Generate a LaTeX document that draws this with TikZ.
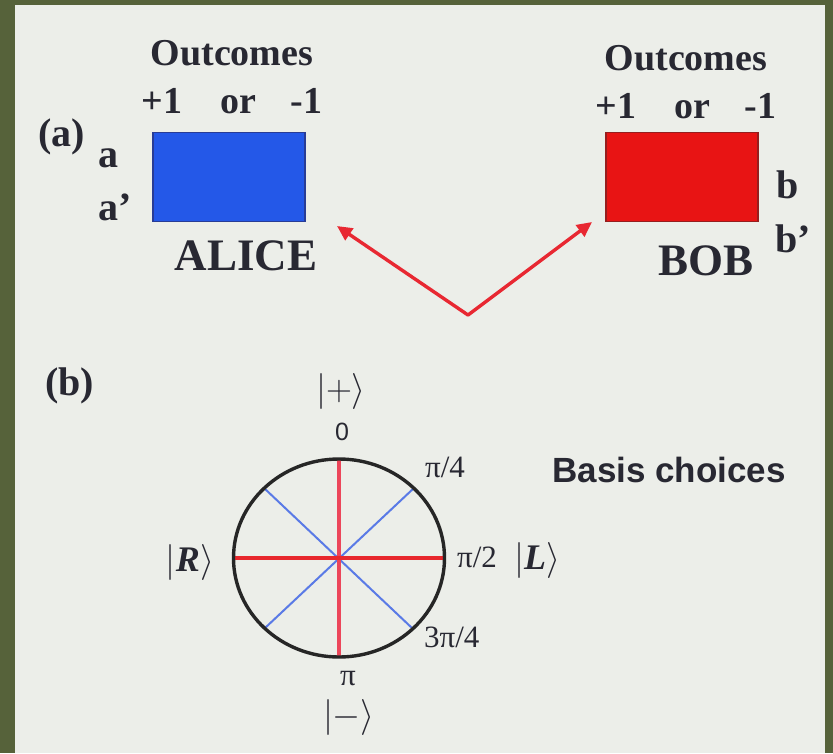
\documentclass[tikz,border=0pt]{standalone}
\usepackage{fix-cm}
\usepackage{fontspec}
\setmainfont{Liberation Serif}
\newfontfamily\labelsans{Liberation Sans}
\usetikzlibrary{arrows.meta}

\definecolor{framegreen}{RGB}{86,98,58}
\definecolor{panelgray}{RGB}{236,238,233}
\definecolor{alicefill}{RGB}{36,88,232}
\definecolor{aliceedge}{RGB}{40,60,150}
\definecolor{bobfill}{RGB}{232,20,20}
\definecolor{bobedge}{RGB}{150,30,30}
\definecolor{arrowred}{RGB}{232,40,50}
\definecolor{axisred}{RGB}{232,40,45}
\definecolor{axispink}{RGB}{236,70,90}
\definecolor{diagblue}{RGB}{90,122,230}
\definecolor{inkdark}{RGB}{40,40,50}

\tikzset{
  heading/.style={inner sep=0pt, anchor=base, text=inkdark,
    font=\fontsize{38}{40}\selectfont\bfseries},
  tagtxt/.style={inner sep=0pt, anchor=base west, text=inkdark,
    font=\fontsize{40}{42}\selectfont\bfseries},
  nametxt/.style={inner sep=0pt, anchor=base, text=inkdark,
    font=\fontsize{45}{47}\selectfont\bfseries},
  settingtxt/.style={inner sep=0pt, anchor=base west, text=inkdark,
    font=\fontsize{40}{42}\selectfont\bfseries},
  detector/.style={inner sep=0pt, minimum width=152pt, minimum height=89pt,
    line width=1.2pt},
  sigarrow/.style={draw=arrowred, line width=3.4pt, line cap=round,
    -{Triangle[length=15pt,width=14pt]}},
  angletxt/.style={inner sep=0pt, anchor=base west, text=inkdark,
    font=\fontsize{31}{33}\selectfont},
  kettxt/.style={inner sep=0pt, text=inkdark,
    font=\fontsize{36}{38}\selectfont},
}

\begin{document}
\begin{tikzpicture}[x=1pt,y=-1pt]
  % slide frame and panel
  \fill[framegreen] (0,0) rectangle (833,753);
  \fill[panelgray] (15,5) rectangle (825,753);
  \useasboundingbox (0,0) rectangle (833,753);

  % ---- part (a): the two detectors ----
  \node[tagtxt] (taga) at (38,146) {(a)};

  \node[heading] (outa) at (232,65) {Outcomes};
  \node[heading] (pma) at (232,113) {+1\hspace{38pt}or\hspace{35pt}-1};
  \node[heading] (outb) at (686,70) {Outcomes};
  \node[heading] (pmb) at (686,118) {+1\hspace{38pt}or\hspace{35pt}-1};

  \node[detector, draw=aliceedge, fill=alicefill] (alice) at (229,177) {};
  \node[detector, draw=bobedge, fill=bobfill] (bob) at (682,177) {};

  \node[settingtxt] (sa) at (98,167) {a};
  \node[settingtxt] (sap) at (98,220) {a’};
  \node[settingtxt] (sb) at (776,198) {b};
  \node[settingtxt] (sbp) at (775,252) {b’};

  \node[nametxt] (alicename) at (246,270) {ALICE};
  \node[nametxt] (bobname) at (706,275) {BOB};

  % source emitting towards both detectors
  \coordinate (src) at (468,315);
  \coordinate (atip) at (337,226);
  \coordinate (btip) at (592,222);
  \draw[sigarrow] (src) -- (atip);
  \draw[sigarrow] (src) -- (btip);

  % ---- part (b): basis choices on the circle ----
  \node[tagtxt] (tagb) at (45,395) {(b)};

  \coordinate (c) at (339,558);
  \coordinate (pN) at (339,459);
  \coordinate (pS) at (339,657);
  \coordinate (pW) at (233,558);
  \coordinate (pE) at (446,558);
  \coordinate (pNE) at (414,488);
  \coordinate (pSW) at (265,628);
  \coordinate (pNW) at (264,488);
  \coordinate (pSE) at (412,628);

  \draw[diagblue, line width=2pt] (pNW) -- (pSE);
  \draw[diagblue, line width=2pt] (pNE) -- (pSW);
  \draw[axispink, line width=3.4pt] (pN) -- (pS);
  \draw[axisred, line width=3.4pt] (pW) -- (pE);
  \draw[black!85, line width=3.4pt] (c) ellipse [x radius=105.5pt, y radius=99pt];

  \node[inner sep=0pt, anchor=base, text=inkdark,
        font=\labelsans\fontsize{25}{27}\selectfont] (zero) at (342,440) {0};
  \node[angletxt] (q1) at (425,477) {π/4};
  \node[angletxt] (q2) at (457,567) {π/2};
  \node[angletxt] (q3) at (424,647) {3π/4};
  \node[angletxt, anchor=base] (q4) at (348,685) {π};

  \node[kettxt] (kplus) at (341,391) {$|{+}\rangle$};
  \node[kettxt] (kminus) at (349,717) {$|{-}\rangle$};
  \node[kettxt] (kR) at (190,562) {$|\textbf{\textit{R}}\rangle$};
  \node[kettxt] (kL) at (537,560) {$|\textbf{\textit{L}}\rangle$};

  \node[inner sep=0pt, anchor=base, text=inkdark,
        font=\labelsans\bfseries\fontsize{35}{37}\selectfont] (basis) at (669,482) {Basis choices};
\end{tikzpicture}
\end{document}
